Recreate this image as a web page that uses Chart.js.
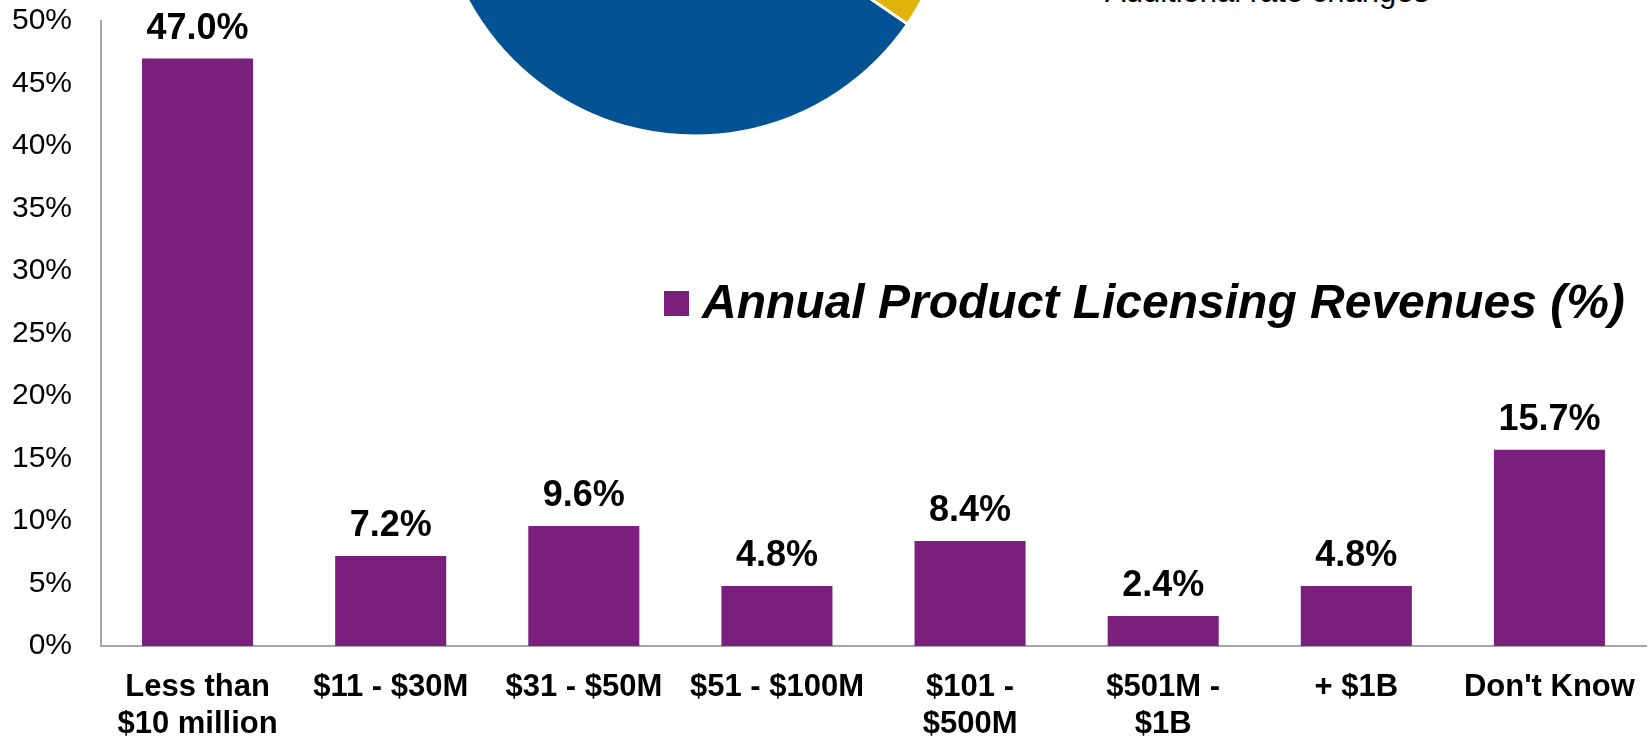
<!DOCTYPE html>
<html>
<head>
<meta charset="utf-8">
<script src="https://cdn.jsdelivr.net/npm/chart.js@4.4.1/dist/chart.umd.min.js"></script>
<style>
    html, body { margin: 0; padding: 0; background: #fff; overflow: hidden; }
    #stage { position: relative; width: 1651px; height: 738px; overflow: hidden; }
    #barWrap { position: absolute; left: 0; top: 0; width: 1651px; height: 738px; }
    #pieWrap { position: absolute; left: 415px; top: -402px; width: 560px; height: 560px; }
    #pieNote {
        position: absolute; right: 222px; top: -24px;
        font-family: "Liberation Sans", Arial, sans-serif; font-size: 31px; line-height: 1;
        color: #000; white-space: nowrap;
    }
</style>
</head>
<body>
<div id="stage">
    <div id="pieWrap"><canvas id="pieChart"></canvas></div>
    <div id="pieNote">Additional rate changes</div>
    <div id="barWrap"><canvas id="barChart"></canvas></div>
</div>
<script>
// ====================== //
// DATA                   //
// ====================== //
const categories = [
    ['Less than', '$10 million'],
    '$11 - $30M',
    '$31 - $50M',
    '$51 - $100M',
    ['$101 -', '$500M'],
    ['$501M -', '$1B'],
    '+ $1B',
    "Don't Know"
];
const revenueShare = [47.0, 7.2, 9.6, 4.8, 8.4, 2.4, 4.8, 15.7];
const seriesLabel = 'Annual Product Licensing Revenues (%)';
const yTicks = [0, 5, 10, 15, 20, 25, 30, 35, 40, 45, 50];

// partly hidden pie above the bars (only its lower edge is visible)
const pieLabels = ['Rate unchanged', 'Additional rate changes'];
const pieValues = [62, 38];

const FONT = '"Liberation Sans", Arial, sans-serif';
const PURPLE = '#7a1f7b';

// ====================== //
// PLUGINS                //
// ====================== //
const valueLabels = {
    id: 'valueLabels',
    afterDatasetsDraw(chart) {
        const ctx = chart.ctx;
        const meta = chart.getDatasetMeta(0);
        ctx.save();
        ctx.font = 'bold 36px ' + FONT;
        ctx.fillStyle = '#000';
        ctx.textAlign = 'center';
        ctx.textBaseline = 'alphabetic';
        meta.data.forEach((bar, i) => {
            ctx.fillText(revenueShare[i].toFixed(1) + '%', bar.x, bar.y - 20);
        });
        ctx.restore();
    }
};

const floatingLegend = {
    id: 'floatingLegend',
    afterDraw(chart) {
        const ctx = chart.ctx;
        const ds = chart.data.datasets[0];
        ctx.save();
        ctx.fillStyle = ds.backgroundColor;
        ctx.fillRect(664, 291, 25, 25);
        ctx.font = 'italic bold 48px ' + FONT;
        ctx.fillStyle = '#000';
        ctx.textAlign = 'left';
        ctx.textBaseline = 'alphabetic';
        ctx.fillText(ds.label, 702, 318);
        ctx.restore();
    }
};

// ====================== //
// CHARTS                 //
// ====================== //
new Chart(document.getElementById('pieChart'), {
    type: 'pie',
    data: {
        labels: pieLabels,
        datasets: [{
            data: pieValues,
            backgroundColor: ['#035394', '#e0b40a'],
            borderColor: '#fff',
            borderWidth: 3
        }]
    },
    options: {
        responsive: true,
        maintainAspectRatio: false,
        animation: false,
        radius: 258,
        rotation: 124.5,
        layout: { padding: 0 },
        plugins: { legend: { display: false }, tooltip: { enabled: false } }
    }
});

new Chart(document.getElementById('barChart'), {
    type: 'bar',
    data: {
        labels: categories,
        datasets: [{
            label: seriesLabel,
            data: revenueShare,
            backgroundColor: PURPLE,
            categoryPercentage: 1,
            barPercentage: 0.575
        }]
    },
    options: {
        responsive: true,
        maintainAspectRatio: false,
        animation: false,
        layout: { padding: { top: 21, right: 5, bottom: 0, left: 0 } },
        plugins: { legend: { display: false }, tooltip: { enabled: false } },
        scales: {
            x: {
                grid: { display: false, drawTicks: false },
                border: { display: true, color: '#a6a6a6', width: 2 },
                ticks: {
                    color: '#000',
                    font: { family: FONT, size: 31, weight: 'bold', lineHeight: 1.2 },
                    padding: 23,
                    maxRotation: 0,
                    autoSkip: false
                },
                afterFit(scale) {
                    scale.height = 92;
                    scale.paddingTop = 0;
                    scale.paddingBottom = 0;
                    scale.paddingLeft = 0;
                    scale.paddingRight = 0;
                }
            },
            y: {
                min: 0,
                max: 50,
                grid: { display: false, drawTicks: false },
                border: { display: true, color: '#a6a6a6', width: 2 },
                afterBuildTicks(scale) { scale.ticks = yTicks.map(v => ({ value: v })); },
                ticks: {
                    color: '#000',
                    font: { family: FONT, size: 30 },
                    padding: 29,
                    callback: v => v + '%'
                },
                afterFit(scale) {
                    scale.width = 101;
                    scale.paddingTop = 0;
                    scale.paddingBottom = 0;
                }
            }
        }
    },
    plugins: [valueLabels, floatingLegend]
});
</script>
</body>
</html>
